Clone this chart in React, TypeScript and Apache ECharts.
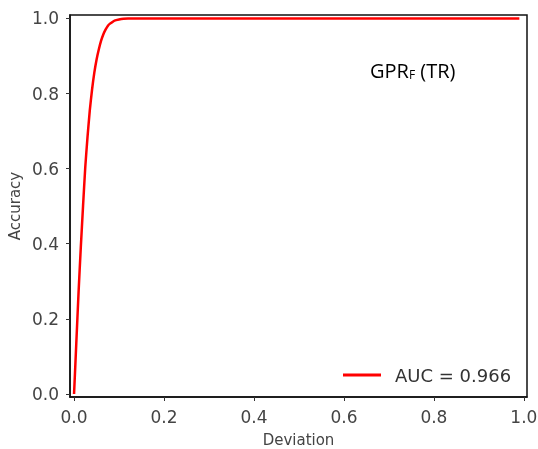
import React, { useEffect, useRef } from "react";
import * as echarts from "echarts";

const devX = [0, 0.005, 0.01, 0.015, 0.02, 0.025, 0.03, 0.035, 0.04, 0.045, 0.05, 0.055, 0.06, 0.065, 0.07, 0.075, 0.08, 0.085, 0.09, 0.1, 0.11, 0.12, 0.99];
const accY = [0, 0.135, 0.27, 0.39, 0.5, 0.605, 0.685, 0.755, 0.81, 0.855, 0.89, 0.917, 0.94, 0.957, 0.97, 0.98, 0.986, 0.99, 0.994, 0.997, 0.999, 1.0, 1.0];
const tickValues = [0, 0.2, 0.4, 0.6, 0.8, 1.0];
const seriesName = "AUC = 0.966";

export default function App() {
  const ref = useRef<HTMLDivElement>(null);
  useEffect(() => {
    const chart = echarts.init(ref.current!, null, { renderer: "svg" });
    const tickColor = "#444";
    const axisCommon = {
      axisLine: { show: true, onZero: false, lineStyle: { color: "#111", width: 1.5 } },
      axisTick: { show: true, length: 4, inside: false, customValues: tickValues, lineStyle: { color: "#333", width: 1 } },
      axisLabel: {
        customValues: tickValues,
        formatter: (v: number) => v.toFixed(1),
        color: tickColor,
        fontFamily: "DejaVu Sans",
        fontSize: 17,
      },
      splitLine: { show: false },
      nameMoveOverlap: false,
      nameTextStyle: { color: tickColor, fontFamily: "DejaVu Sans", fontSize: 15 },
    };
    chart.setOption({
      animation: false,
      grid: {
        left: 70, right: 11, top: 15, bottom: 52,
        outerBoundsMode: "none",
        containLabel: false,
        show: true, borderColor: "#111", borderWidth: 1.5, backgroundColor: "#fff",
      },
      xAxis: {
        type: "value",
        min: -0.009,
        max: 1.007,
        name: "Deviation",
        nameLocation: "middle",
        nameGap: 35,
        ...axisCommon,
        axisLabel: { ...axisCommon.axisLabel, margin: 11 },
      },
      yAxis: {
        type: "value",
        min: -0.008,
        max: 1.009,
        name: "Accuracy",
        nameLocation: "middle",
        nameGap: 48,
        ...axisCommon,
        axisLabel: { ...axisCommon.axisLabel, margin: 11 },
      },
      legend: {
        left: 338,
        top: 361,
        itemWidth: 38,
        itemHeight: 3,
        data: [{ name: seriesName, icon: "rect" }],
        textStyle: { color: "#333", fontFamily: "DejaVu Sans", fontSize: 18, padding: [0, 0, 0, 9] },
      },
      graphic: [
        {
          type: "text",
          left: 370,
          top: 60,
          style: {
            text: "{a|GPR}{b|F}{a| (TR)}",
            rich: {
              a: { fontFamily: "Open Sans", fontSize: 20, fill: "#000", verticalAlign: "bottom", lineHeight: 24 },
              b: { fontFamily: "Open Sans", fontSize: 12, fill: "#000", verticalAlign: "bottom", lineHeight: 19 },
            },
          },
        },
      ],
      series: [
        {
          name: seriesName,
          type: "line",
          data: devX.map((x, i) => [x, accY[i]]),
          smooth: 0.2,
          symbol: "none",
          lineStyle: { color: "#ff0000", width: 2.5 },
          itemStyle: { color: "#ff0000" },
        },
      ],
    });
    return () => chart.dispose();
  }, []);
  return <div ref={ref} style={{ position: "fixed", left: 0, top: 0, width: 538, height: 449 }} />;
}
